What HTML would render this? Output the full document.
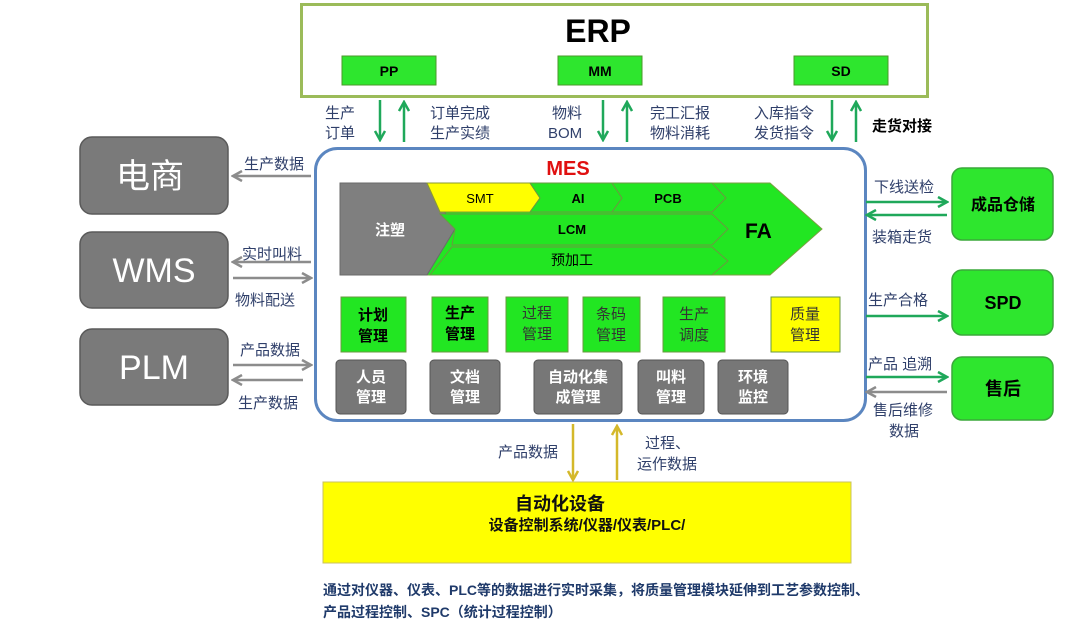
<!DOCTYPE html>
<html><head><meta charset="utf-8"><style>
html,body{margin:0;padding:0;background:#fff;}
svg{display:block;}
text{font-family:"Liberation Sans","Noto Sans CJK SC",sans-serif;}
</style></head><body>
<svg width="1066" height="633" viewBox="0 0 1066 633" xmlns="http://www.w3.org/2000/svg">
<defs>
<marker id="ag" markerWidth="12" markerHeight="12" refX="10" refY="6" orient="auto" markerUnits="userSpaceOnUse"><path d="M1,1 L10,6 L1,11" fill="none" stroke="#1fa85a" stroke-width="2.5"/></marker>
<marker id="agr" markerWidth="12" markerHeight="12" refX="10" refY="6" orient="auto" markerUnits="userSpaceOnUse"><path d="M1,1 L10,6 L1,11" fill="none" stroke="#8c8c8c" stroke-width="2.5"/></marker>
<marker id="ay" markerWidth="12" markerHeight="12" refX="10" refY="6" orient="auto" markerUnits="userSpaceOnUse"><path d="M1,1 L10,6 L1,11" fill="none" stroke="#d4b82a" stroke-width="2.5"/></marker>
</defs>

<rect x="301.5" y="4.5" width="626" height="92" fill="#fff" stroke="#9bbb59" stroke-width="3"/>
<text x="598" y="42" font-size="32" font-weight="bold" text-anchor="middle">ERP</text>
<g stroke="#4a9a2a" stroke-width="1">
<rect x="342" y="56" width="94" height="29" fill="#2ee62e"/>
<rect x="558" y="56" width="84" height="29" fill="#2ee62e"/>
<rect x="794" y="56" width="94" height="29" fill="#2ee62e"/>
</g>
<g font-size="14" font-weight="bold" text-anchor="middle">
<text x="389" y="76">PP</text><text x="600" y="76">MM</text><text x="841" y="76">SD</text>
</g>

<g stroke="#1fa85a" stroke-width="2.5">
<line x1="380" y1="100" x2="380" y2="140" marker-end="url(#ag)"/>
<line x1="404" y1="142" x2="404" y2="102" marker-end="url(#ag)"/>
<line x1="603" y1="100" x2="603" y2="140" marker-end="url(#ag)"/>
<line x1="627" y1="142" x2="627" y2="102" marker-end="url(#ag)"/>
<line x1="832" y1="100" x2="832" y2="140" marker-end="url(#ag)"/>
<line x1="856" y1="142" x2="856" y2="102" marker-end="url(#ag)"/>
</g>
<g font-size="15" fill="#2f3f6a">
<text x="325" y="118">生产</text><text x="325" y="138">订单</text>
<text x="430" y="118">订单完成</text><text x="430" y="138">生产实绩</text>
<text x="552" y="118">物料</text><text x="548" y="138">BOM</text>
<text x="650" y="118">完工汇报</text><text x="650" y="138">物料消耗</text>
<text x="754" y="118">入库指令</text><text x="754" y="138">发货指令</text>
</g>
<text x="872" y="131" font-size="15" font-weight="bold">走货对接</text>

<rect x="315.5" y="148.5" width="550" height="272" rx="22" fill="#fff" stroke="#5b86c0" stroke-width="3"/>
<text x="568" y="175" font-size="20" font-weight="bold" fill="#e01010" text-anchor="middle">MES</text>

<polygon points="427,183 770,183 822,229 770,275 427,275" fill="#22e622" stroke="#7aa040" stroke-width="1"/>
<polygon points="340,183 427,183 455,229 427,275 340,275" fill="#7f7f7f" stroke="#6a6a6a"/>
<polygon points="427,183 530,183 540,198 530,212 440,212" fill="#ffff00" stroke="#8a9a30"/>
<polygon points="530,183 612,183 622,198 612,212 530,212 540,198" fill="#22e622" stroke="#6a9a40"/>
<polygon points="612,183 712,183 726,198 712,212 612,212 622,198" fill="#22e622" stroke="#6a9a40"/>
<polygon points="440,214 712,214 728,229 712,245 452,245 455,229" fill="#22e622" stroke="#6a9a40"/>
<polygon points="452,247 712,247 728,261 712,275 430,275" fill="#22e622" stroke="#6a9a40"/>
<text x="390" y="235" font-size="15" font-weight="bold" fill="#fff" text-anchor="middle">注塑</text>
<text x="480" y="203" font-size="13" text-anchor="middle">SMT</text>
<text x="578" y="203" font-size="13" font-weight="bold" text-anchor="middle">AI</text>
<text x="668" y="203" font-size="13" font-weight="bold" text-anchor="middle">PCB</text>
<text x="572" y="234" font-size="13" font-weight="bold" text-anchor="middle">LCM</text>
<text x="572" y="265" font-size="14" text-anchor="middle">预加工</text>
<text x="745" y="238" font-size="21" font-weight="bold">FA</text>

<g stroke="#6a9a40" stroke-width="1">
<rect x="341" y="297" width="65" height="55" fill="#22e622"/>
<rect x="432" y="297" width="56" height="55" fill="#22e622"/>
<rect x="506" y="297" width="62" height="55" fill="#22e622"/>
<rect x="583" y="297" width="57" height="55" fill="#22e622"/>
<rect x="663" y="297" width="62" height="55" fill="#22e622"/>
<rect x="771" y="297" width="69" height="55" fill="#ffff00"/>
</g>
<g font-size="15" text-anchor="middle">
<text x="373" y="320" font-weight="bold">计划</text><text x="373" y="341" font-weight="bold">管理</text>
<text x="460" y="318" font-weight="bold">生产</text><text x="460" y="339" font-weight="bold">管理</text>
<text x="537" y="318" fill="#333">过程</text><text x="537" y="339" fill="#333">管理</text>
<text x="611" y="319" fill="#333">条码</text><text x="611" y="340" fill="#333">管理</text>
<text x="694" y="319" fill="#333">生产</text><text x="694" y="340" fill="#333">调度</text>
<text x="805" y="319" fill="#333">质量</text><text x="805" y="340" fill="#333">管理</text>
</g>

<g fill="#777" stroke="#555" stroke-width="1">
<rect x="336" y="360" width="70" height="54" rx="4"/>
<rect x="430" y="360" width="70" height="54" rx="4"/>
<rect x="534" y="360" width="88" height="54" rx="4"/>
<rect x="638" y="360" width="66" height="54" rx="4"/>
<rect x="718" y="360" width="70" height="54" rx="4"/>
</g>
<g font-size="15" font-weight="bold" fill="#fff" text-anchor="middle">
<text x="371" y="382">人员</text><text x="371" y="402">管理</text>
<text x="465" y="382">文档</text><text x="465" y="402">管理</text>
<text x="578" y="382">自动化集</text><text x="578" y="402">成管理</text>
<text x="671" y="382">叫料</text><text x="671" y="402">管理</text>
<text x="753" y="382">环境</text><text x="753" y="402">监控</text>
</g>

<g fill="#7a7a7a" stroke="#5a5a5a" stroke-width="1.5">
<rect x="80" y="137" width="148" height="77" rx="12"/>
<rect x="80" y="232" width="148" height="76" rx="12"/>
<rect x="80" y="329" width="148" height="76" rx="12"/>
</g>
<g font-size="34" fill="#fff" text-anchor="middle">
<text x="150" y="188">电商</text>
<text x="154" y="282">WMS</text>
<text x="154" y="379">PLM</text>
</g>
<g stroke="#8c8c8c" stroke-width="2.5">
<line x1="311" y1="176" x2="233" y2="176" marker-end="url(#agr)"/>
<line x1="311" y1="262" x2="233" y2="262" marker-end="url(#agr)"/>
<line x1="233" y1="278" x2="311" y2="278" marker-end="url(#agr)"/>
<line x1="233" y1="365" x2="311" y2="365" marker-end="url(#agr)"/>
<line x1="303" y1="380" x2="233" y2="380" marker-end="url(#agr)"/>
</g>
<g font-size="15" fill="#2f3f6a">
<text x="244" y="169">生产数据</text>
<text x="242" y="259">实时叫料</text>
<text x="235" y="305">物料配送</text>
<text x="240" y="355">产品数据</text>
<text x="238" y="408">生产数据</text>
</g>

<g fill="#2ee62e" stroke="#3aa83a" stroke-width="1.5">
<rect x="952" y="168" width="101" height="72" rx="10"/>
<rect x="952" y="270" width="101" height="65" rx="10"/>
<rect x="952" y="357" width="101" height="63" rx="10"/>
</g>
<g font-size="16" font-weight="bold" text-anchor="middle">
<text x="1003" y="210">成品仓储</text>
<text x="1003" y="309" font-size="18">SPD</text>
<text x="1003" y="395" font-size="18">售后</text>
</g>
<g stroke="#1fa85a" stroke-width="2.5">
<line x1="866" y1="202" x2="947" y2="202" marker-end="url(#ag)"/>
<line x1="947" y1="215" x2="867" y2="215" marker-end="url(#ag)"/>
<line x1="866" y1="316" x2="947" y2="316" marker-end="url(#ag)"/>
<line x1="866" y1="377" x2="947" y2="377" marker-end="url(#ag)"/>
</g>
<line x1="947" y1="392" x2="867" y2="392" stroke="#8c8c8c" stroke-width="2.5" marker-end="url(#agr)"/>
<g font-size="15" fill="#2f3f6a">
<text x="874" y="192">下线送检</text>
<text x="872" y="242">装箱走货</text>
<text x="868" y="305">生产合格</text>
<text x="868" y="369">产品 追溯</text>
<text x="873" y="415">售后维修</text>
<text x="889" y="436">数据</text>
</g>

<g stroke="#d4b82a" stroke-width="2.5">
<line x1="573" y1="424" x2="573" y2="480" marker-end="url(#ay)"/>
<line x1="617" y1="480" x2="617" y2="426" marker-end="url(#ay)"/>
</g>
<g font-size="15" fill="#2f3f6a">
<text x="498" y="457">产品数据</text>
<text x="645" y="448">过程、</text>
<text x="637" y="469">运作数据</text>
</g>
<rect x="323" y="482" width="528" height="81" fill="#ffff00" stroke="#c8c060" stroke-width="1"/>
<text x="560" y="510" font-size="18" font-weight="bold" text-anchor="middle" fill="#111">自动化设备</text>
<text x="587" y="530" font-size="15" font-weight="bold" text-anchor="middle" fill="#111">设备控制系统/仪器/仪表/PLC/</text>

<g font-size="14" font-weight="bold" fill="#1f3a6a">
<text x="323" y="595">通过对仪器、仪表、PLC等的数据进行实时采集，将质量管理模块延伸到工艺参数控制、</text>
<text x="323" y="617">产品过程控制、SPC（统计过程控制）</text>
</g>
</svg>
</body></html>
